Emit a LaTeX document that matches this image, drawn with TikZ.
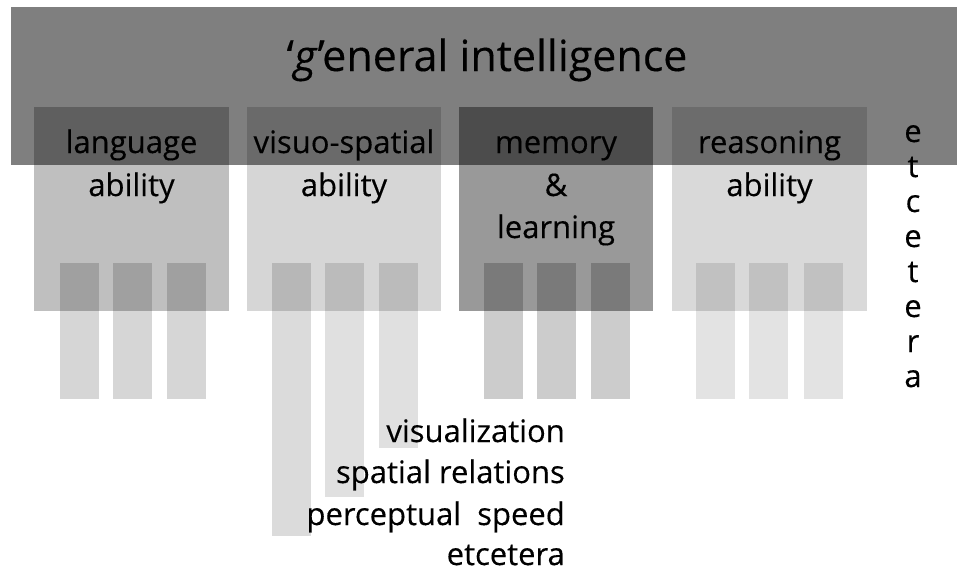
\documentclass[tikz,border=0pt]{standalone}
\usepackage{fontspec}
\setmainfont[FakeBold=0.3]{Open Sans}
\begin{document}
\begin{tikzpicture}[x=1pt,y=-1pt,
  tint/.style={fill=black, draw=none, fill opacity=#1},
  lbl/.style={inner sep=0pt, anchor=base, font=\fontsize{31}{31}\selectfont},
  ttl/.style={inner sep=0pt, anchor=base, font=\fontsize{43}{43}\selectfont},
  sub/.style={inner sep=0pt, anchor=base east, font=\fontsize{31}{31}\selectfont}]
\fill[white] (0,0) rectangle (957,574);
\useasboundingbox (0,0) rectangle (957,574);

% general factor band
\fill[tint=0.5] (11,7) rectangle (957,165);

% ability boxes
\fill[tint=0.25] (34,107) rectangle (229,311);
\fill[tint=0.16] (247,107) rectangle (441,311);
\fill[tint=0.40] (459,107) rectangle (653,311);
\fill[tint=0.15] (672,107) rectangle (867,311);

% narrow abilities under each box
\foreach \x in {60,113,167} \fill[tint=0.16] (\x,263) rectangle ++(39,136);
\fill[tint=0.14] (272,263) rectangle (311,536);
\fill[tint=0.12] (325,263) rectangle (364,497);
\fill[tint=0.12] (379,263) rectangle (418,448);
\foreach \x in {484,537,591} \fill[tint=0.20] (\x,263) rectangle ++(39,136);
\foreach \x in {696,749,804} \fill[tint=0.11] (\x,263) rectangle ++(39,136);

% labels
\node[ttl] (title) at (487,71) {‘\textit{g}’eneral intelligence};

\node[lbl] (lang1) at (131.5,153) {language};
\node[lbl] (lang2) at (131.5,196) {ability};
\node[lbl] (vis1) at (344,153) {visuo-spatial};
\node[lbl] (vis2) at (344,196) {ability};
\node[lbl] (mem1) at (556,153) {memory};
\node[lbl] (mem2) at (556,196) {\&};
\node[lbl] (mem3) at (556,238) {learning};
\node[lbl] (rea1) at (769.5,153) {reasoning};
\node[lbl] (rea2) at (769.5,196) {ability};

\foreach \c [count=\i] in {e,t,c,e,t,e,r,a}
  \node[lbl] (etc\i) at (913,107+35*\i) {\c};

\node[sub] (s1) at (565,442) {visualization};
\node[sub] (s2) at (565,483) {spatial relations};
\node[sub] (s3) at (565,525) {perceptual\ \ speed};
\node[sub] (s4) at (565,565) {etcetera};
\end{tikzpicture}
\end{document}
